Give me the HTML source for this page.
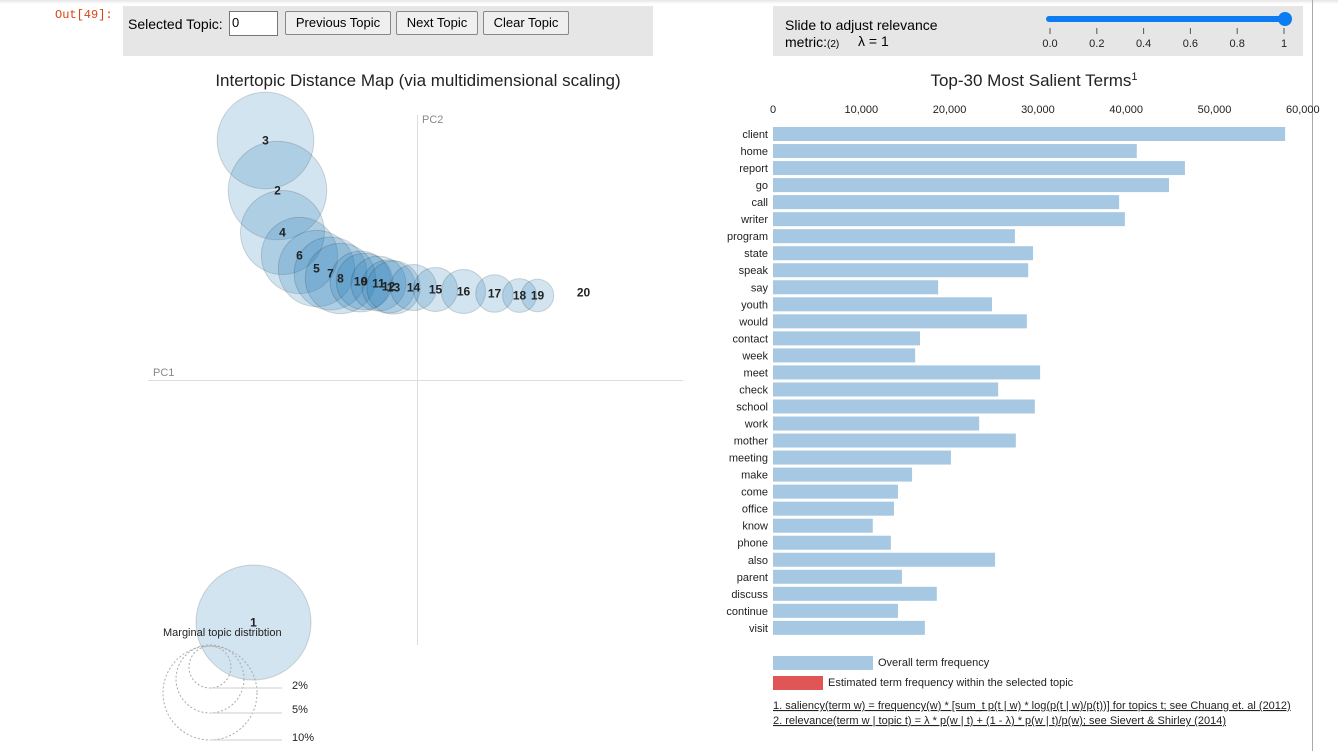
<!DOCTYPE html>
<html><head><meta charset="utf-8">
<style>
body{margin:0;width:1338px;height:751px;overflow:hidden;background:#fff;font-family:"Liberation Sans","DejaVu Sans",sans-serif;}
svg text{font-family:"Liberation Sans","DejaVu Sans",sans-serif;}
.btn{position:absolute;top:11px;height:24px;border:1px solid #888;border-radius:2px;background:#efefef;font-size:13px;line-height:22px;padding:0;text-align:center;white-space:nowrap;box-sizing:border-box;}
</style></head><body>
<div style="position:absolute;left:0;top:0;width:1338px;height:4px;background:linear-gradient(#e6e6e6,#fff)"></div>
<div style="position:absolute;left:55px;top:8px;font-family:'Liberation Mono',monospace;font-size:12px;color:#d84315">Out[49]:</div>
<div style="position:absolute;left:123px;top:6px;width:530px;height:50px;background:#e6e6e6">
  <span style="position:absolute;left:5px;top:10px;font-size:14px;white-space:nowrap">Selected Topic:</span>
  <div style="position:absolute;left:106px;top:5px;width:49px;height:25px;background:#fff;border:1px solid #777;box-sizing:border-box;font-size:13px;padding:3px 2px">0</div>
  <div class="btn" style="left:162px;top:5px;width:106px">Previous Topic</div>
  <div class="btn" style="left:273px;top:5px;width:82px">Next Topic</div>
  <div class="btn" style="left:360px;top:5px;width:86px">Clear Topic</div>
</div>
<div style="position:absolute;left:773px;top:6px;width:530px;height:50px;background:#e6e6e6">
  <span style="position:absolute;left:12px;top:11px;font-size:14px;line-height:17px">Slide to adjust relevance<br>metric:<span style="font-size:10px">(2)</span></span>
  <span style="position:absolute;left:85px;top:27px;font-size:14px">λ = 1</span>
</div>
<div style="position:absolute;left:1312px;top:0;width:1px;height:751px;background:#aaa"></div>
<svg id="svg" width="1338" height="751" style="position:absolute;left:0;top:0">
  <g>
    <line x1="1049" y1="19" x2="1285" y2="19" stroke="#0d7cf2" stroke-width="6" stroke-linecap="round"/>
    <circle cx="1285" cy="19" r="7" fill="#0d7cf2"/>
  </g>
  <g id="sliderTicks" font-size="11" fill="#222"></g>
  <text x="418" y="86" text-anchor="middle" font-size="17" fill="#222">Intertopic Distance Map (via multidimensional scaling)</text>
  <line x1="417.5" y1="115" x2="417.5" y2="645" stroke="#ddd"/>
  <line x1="148" y1="380.5" x2="683" y2="380.5" stroke="#ddd"/>
  <text x="422" y="123" font-size="11" fill="#888">PC2</text>
  <text x="153" y="376" font-size="11" fill="#888">PC1</text>
  <g id="bubbles"></g>
  <g fill="none" stroke="#aaa" stroke-dasharray="2,2">
    <circle cx="210" cy="667" r="21"/><circle cx="210" cy="679" r="34"/><circle cx="210" cy="693" r="47"/>
  </g>
  <g stroke="#ccc"><line x1="210" y1="688" x2="282" y2="688"/><line x1="210" y1="713" x2="282" y2="713"/><line x1="210" y1="740" x2="282" y2="740"/></g>
  <g font-size="11" fill="#222"><text x="292" y="689">2%</text><text x="292" y="713">5%</text><text x="292" y="741">10%</text></g>
  <text x="163" y="636" font-size="11" fill="#222">Marginal topic distribtion</text>
  <text x="1034" y="86" text-anchor="middle" font-size="17" fill="#222">Top-30 Most Salient Terms<tspan font-size="11" dy="-6">1</tspan></text>
  <g id="xticks" font-size="11" fill="#222"></g>
  <g id="bars"></g>
  <rect x="773" y="656" width="100" height="14" fill="#a6c8e2"/>
  <text x="878" y="666" font-size="11" fill="#222">Overall term frequency</text>
  <rect x="773" y="676" width="50" height="14" fill="#e05556"/>
  <text x="828" y="686" font-size="11" fill="#222">Estimated term frequency within the selected topic</text>
  <text x="773" y="709" font-size="11" fill="#222" text-decoration="underline">1. saliency(term w) = frequency(w) * [sum_t p(t | w) * log(p(t | w)/p(t))] for topics t; see Chuang et. al (2012)</text>
  <text x="773" y="724" font-size="11" fill="#222" text-decoration="underline">2. relevance(term w | topic t) = λ * p(w | t) + (1 - λ) * p(w | t)/p(w); see Sievert &amp; Shirley (2014)</text>
</svg>
<script>
const terms=["client","home","report","go","call","writer","program","state","speak","say","youth","would","contact","week","meet","check","school","work","mother","meeting","make","come","office","know","phone","also","parent","discuss","continue","visit"];
const freqs=[58000,41200,46650,44850,39200,39850,27400,29450,28900,18700,24800,28750,16650,16100,30250,25500,29650,23350,27500,20150,15750,14150,13700,11300,13350,25150,14600,18550,14150,17200];
const xTickVals=[0,10000,20000,30000,40000,50000,60000];
const topicIds=[1,3,2,4,6,5,7,8,10,9,11,12,13,14,15,16,17,18,19,20];
const topicX=[-164,-152,-140,-135,-118,-101,-87,-77,-57,-53,-39,-29,-24,-4,18,46,77,102,120,166];
const topicY=[-242,240,190,148,125,112,107,102,99,99,97,94,93,93,91,89,87,85,85,88];
const topicSize=[7.5,5.3,5.5,4.0,3.3,3.3,3.0,2.8,2.1,1.8,1.7,1.6,1.6,1.2,1.1,1.1,0.8,0.65,0.6,0];
const sliderVals=["0.0","0.2","0.4","0.6","0.8","1"];
const NS="http://www.w3.org/2000/svg";
function mk(t,a,p){const e=document.createElementNS(NS,t);for(const k in a)e.setAttribute(k,a[k]);p.appendChild(e);return e;}
const bx=v=>773+v*0.00883;
const by=i=>127+i*17.03;
const px=v=>417.5+v, py=v=>380.5-v;
const pr=s=>Math.sqrt(s)*21;
const xt=document.getElementById('xticks');
xTickVals.forEach(v=>{const t=mk('text',{x:bx(v),y:113,'text-anchor':'middle'},xt);t.textContent=v.toLocaleString('en-US');

});
const bg=document.getElementById('bars');
terms.forEach((w,i)=>{const r=mk('rect',{x:773,y:by(i),width:bx(freqs[i])-773,height:14,fill:'#a6c8e2'},bg);


const t=mk('text',{x:768,y:by(i)+11,'text-anchor':'end','font-size':11,fill:'#222'},bg);t.textContent=w;

});
const bb=document.getElementById('bubbles');
topicIds.forEach((id,i)=>{const r=pr(topicSize[i]);if(r>0){const c=mk('circle',{cx:px(topicX[i]),cy:py(topicY[i]),r:r,fill:'rgba(31,119,180,0.2)',stroke:'rgba(0,0,0,0.15)'},bb);

}});
topicIds.forEach((id,i)=>{const t=mk('text',{x:px(topicX[i]),y:py(topicY[i])+4,'text-anchor':'middle','font-size':12,'font-weight':'bold',fill:'#222'},bb);t.textContent=id;

});
const st=document.getElementById('sliderTicks');
sliderVals.forEach((v,i)=>{const x=1050+i*46.8;mk('line',{x1:x,y1:28,x2:x,y2:34,stroke:'#555'},st);const t=mk('text',{x:x,y:47,'text-anchor':'middle'},st);t.textContent=v;

});
</script>
</body></html>
